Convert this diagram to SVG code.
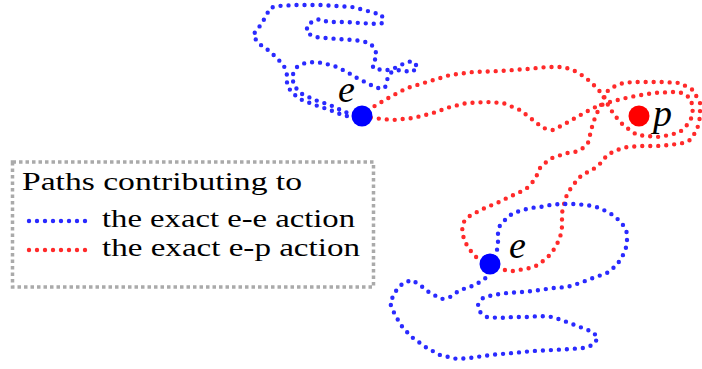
<svg xmlns="http://www.w3.org/2000/svg" width="702" height="369" viewBox="0 0 702 369">
<style>
.path{fill:none;stroke-width:4.4;stroke-linecap:round;stroke-linejoin:round;stroke-dasharray:0 8}
.blue{stroke:#2a2aff}
.red{stroke:#ff2a2a}
.lbl{font-family:"Liberation Serif","Times New Roman",serif;font-style:italic;font-size:38px;fill:#000}
.leg{font-family:"Liberation Serif","Times New Roman",serif;font-size:26px;fill:#000}
</style>
<g id="connectors">
<path class="path blue" d="M362,116 L345,112 L330,105 L315,100 L302,94 L294,86 L292,76 L297,67 L305,63 L315,62 L323,63 L337,67 L347,72 L357,78 L367,83 L377,88 L385,88 L387,80 L390,73 L397,70 L405,71 L412,72 L418,67 L412,61 L405,63 L397,67 L390,70 L382,70 L373,68 L373,62 L377,57 L375,49 L370,43 L355,40 L338,39 L325,38 L315,37 L307,33 L307,26 L313,21 L320,19 L328,22 L345,22 L360,23 L377,24 L383,23 L382,15 L375,13 L360,9 L352,7 L320,5 L295,5 L278,6 L270,8 L267,14 L262,23 L257,30 L253,35 L258,43 L268,50 L277,58 L284,66 L287,75 L287,85 L292,93 L302,100 L315,105 L330,110 L345,116 L362,116"/>
<path class="path red" d="M362,116 L373,107 L390,97 L407,88 L427,82 L450,75 L473,72 L500,71 L527,69 L547,67 L563,67 L573,70 L585,77 L597,88 L605,98 L608,105 L613,113 L620,122 L627,128 L637,135 L657,137 L670,135 L680,132 L687,125 L692,117 L693,107 L690,98 L683,93 L673,92 L653,93 L630,97 L610,102 L593,108 L577,117 L563,125 L553,130 L543,128 L533,120 L520,110 L503,103 L487,102 L467,103 L450,107 L433,113 L413,118 L393,120 L373,118 L362,116"/>
<path class="path red" d="M490,264 L482,262 L477,258 L470,250 L465,242 L462,232 L463,223 L468,217 L477,212 L487,207 L497,203 L507,198 L520,192 L527,188 L532,183 L537,175 L540,168 L545,163 L552,158 L558,156 L567,153 L575,152 L583,148 L588,143 L590,135 L593,123 L597,113 L602,103 L605,93 L613,87 L623,83 L633,82 L647,82 L663,82 L680,83 L693,90 L700,103 L700,117 L697,130 L690,140 L683,143 L670,145 L657,146 L640,146 L627,147 L617,150 L607,155 L602,162 L595,168 L588,172 L582,175 L577,180 L572,187 L568,192 L565,200 L562,213 L562,227 L560,238 L555,248 L548,257 L538,265 L530,268 L513,271 L505,270 L490,264"/>
<path class="path blue" d="M490,264 L497,250 L498,242 L498,233 L500,225 L507,218 L513,213 L520,211 L530,208 L540,207 L550,205 L560,204 L573,204 L587,205 L600,208 L613,215 L622,223 L627,233 L627,245 L623,255 L617,265 L607,273 L593,278 L580,283 L567,287 L553,288 L540,290 L523,292 L507,293 L493,295 L483,298 L478,305 L480,312 L487,317 L500,318 L513,317 L527,317 L540,316 L553,317 L567,322 L580,327 L593,332 L598,338 L593,345 L583,348 L570,349 L553,350 L533,351 L513,353 L490,355 L470,358 L457,359 L440,355 L427,348 L413,338 L403,328 L395,315 L390,303 L395,292 L403,283 L412,280 L420,285 L430,293 L442,299 L450,297 L460,290 L470,287 L480,282 L487,277 L490,264"/>
</g>
<g id="node-e1">
<circle cx="362" cy="116" r="10.5" fill="#0000ff"/>
<text class="lbl" x="338" y="102">e</text>
</g>
<g id="node-e2">
<circle cx="490" cy="264" r="10.5" fill="#0000ff"/>
<text class="lbl" x="509" y="258">e</text>
</g>
<g id="node-p">
<circle cx="639" cy="116" r="10.5" fill="#ff0000"/>
<text class="lbl" x="653" y="126">p</text>
</g>
<g id="legend">
<rect x="12.5" y="162" width="361" height="125" fill="none" stroke="#aaaaaa" stroke-width="3.5" stroke-dasharray="3.5 3"/>
<text class="leg" x="22" y="190" textLength="280" lengthAdjust="spacingAndGlyphs">Paths contributing to</text>
<line class="path blue" x1="29" y1="221" x2="91" y2="221" stroke-dasharray="0 7.5"/>
<text class="leg" x="102" y="227" textLength="253" lengthAdjust="spacingAndGlyphs">the exact e-e action</text>
<line class="path red" x1="29" y1="250" x2="91" y2="250" stroke-dasharray="0 7.5"/>
<text class="leg" x="102" y="256" textLength="258" lengthAdjust="spacingAndGlyphs">the exact e-p action</text>
</g>
</svg>
